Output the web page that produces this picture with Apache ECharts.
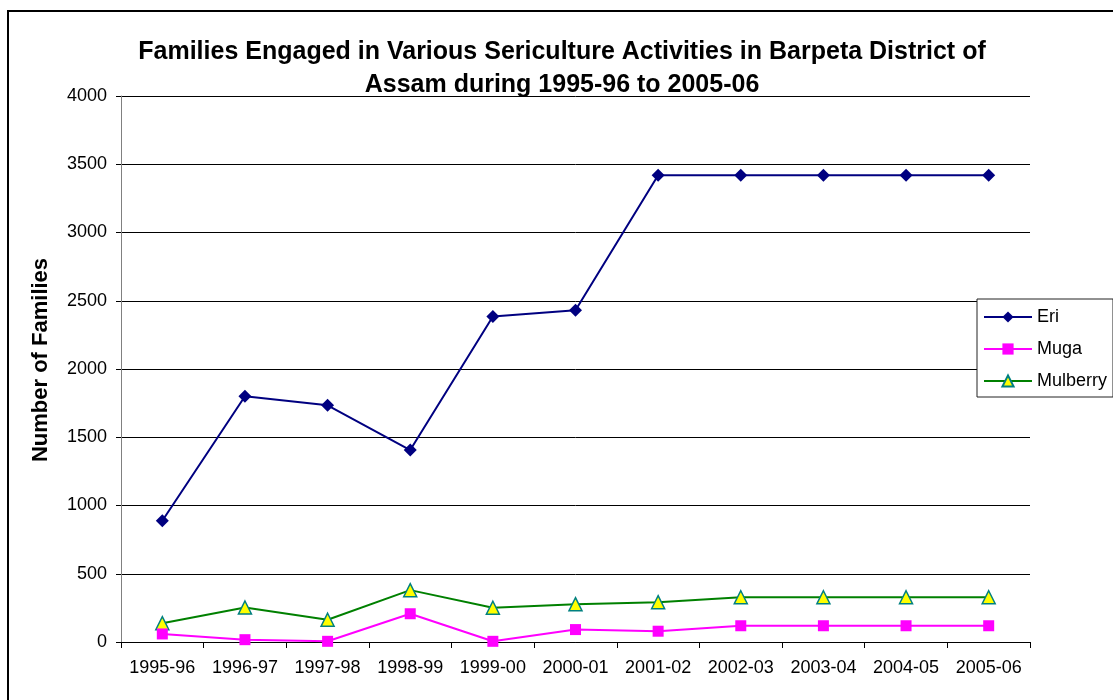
<!DOCTYPE html>
<html>
<head>
<meta charset="utf-8">
<title>Sericulture families - Barpeta</title>
<script src="https://cdn.jsdelivr.net/npm/echarts@6/dist/echarts.min.js"></script>
<style>
    html,body{margin:0;padding:0;background:#fff;}
    #main{width:1113px;height:700px;}
</style>
</head>
<body>
<div id="main"></div>
<script>

/********** 数据 ********** */

var years = ["1995-96","1996-97","1997-98","1998-99","1999-00","2000-01","2001-02","2002-03","2003-04","2004-05","2005-06"];

var eriData = [888, 1800, 1734, 1406, 2384, 2430, 3420, 3420, 3420, 3420, 3420];

var mugaData = [59, 17, 5, 207, 5, 91, 79, 119, 119, 119, 119];

var mulberryData = [138, 253, 163, 380, 251, 277, 292, 328, 328, 328, 328];

var yTicks = [0, 500, 1000, 1500, 2000, 2500, 3000, 3500, 4000];


/********** 折线图 ********** */

var myChart = echarts.init(document.getElementById("main"));

var font = "'Liberation Sans', Arial, sans-serif";

option = {

    animation : false,

    backgroundColor : "#fff",

    textStyle : {fontFamily : font},

    title : {
        text : "Families Engaged in Various Sericulture Activities in Barpeta District of\nAssam during 1995-96 to 2005-06",
        left : 557,
        top : 31,
        textAlign : "center",
        padding : [5, 5, 5, 5],
        textStyle : {
            fontFamily : font,
            fontSize : 25,
            fontWeight : "bold",
            color : "#000",
            lineHeight : 33
        }
    },

    // 外框
    graphic : [
        {
            type : "rect",
            shape : {x : 8, y : 11, width : 1120, height : 700},
            style : {fill : "none", stroke : "#000", lineWidth : 2},
            z : -1
        }
    ],

    grid : {left : 121, right : 83, top : 96, bottom : 58},

    legend : {
        orient : "vertical",
        left : 977,
        top : 299,
        data : ["Eri", "Muga", "Mulberry"],
        backgroundColor : "#fff",
        borderColor : "#222",
        borderWidth : 1,
        padding : [9, 6, 7, 6],
        itemWidth : 48,
        itemHeight : 14,
        itemGap : 14,
        textStyle : {fontFamily : font, fontSize : 18, color : "#000"},
        z : 10
    },

    xAxis : {
        type : "category",
        data : years,
        boundaryGap : true,
        axisLine : {lineStyle : {color : "#000", width : 1}},
        axisTick : {show : true, length : 6, inside : false, lineStyle : {color : "#000"}},
        axisLabel : {fontFamily : font, fontSize : 18, color : "#000", margin : 17, interval : 0},
        splitLine : {show : false}
    },

    yAxis : {
        type : "value",
        min : yTicks[0],
        max : yTicks[yTicks.length - 1],
        interval : 500,
        name : "Number of Families",
        nameLocation : "middle",
        nameGap : 69,
        nameTextStyle : {
            fontFamily : font,
            fontSize : 22,
            fontWeight : "bold",
            color : "#000",
            padding : [0, 0, 0, 18]
        },
        axisLine : {show : true, lineStyle : {color : "#808080", width : 1}},
        axisTick : {show : true, length : 5, lineStyle : {color : "#000"}},
        axisLabel : {
            fontFamily : font,
            fontSize : 18,
            color : "#000",
            margin : 14,
            formatter : function(v){ return String(v); }
        },
        splitLine : {show : true, lineStyle : {color : "#000", width : 1}}
    },

    series : [
        {
            name : "Eri",
            type : "line",
            data : eriData,
            symbol : "diamond",
            symbolSize : 13,
            lineStyle : {color : "#000080", width : 2},
            itemStyle : {color : "#000080"},
            z : 4
        },
        {
            name : "Muga",
            type : "line",
            data : mugaData,
            symbol : "rect",
            symbolSize : 11,
            lineStyle : {color : "#FF00FF", width : 2},
            itemStyle : {color : "#FF00FF"},
            z : 3
        },
        {
            name : "Mulberry",
            type : "line",
            data : mulberryData,
            symbol : "triangle",
            symbolSize : 13,
            lineStyle : {color : "#008000", width : 2},
            itemStyle : {color : "#FFFF00", borderColor : "#008080", borderWidth : 1.5},
            z : 2
        }
    ]
}

myChart.setOption(option);

</script>
</body>
</html>
